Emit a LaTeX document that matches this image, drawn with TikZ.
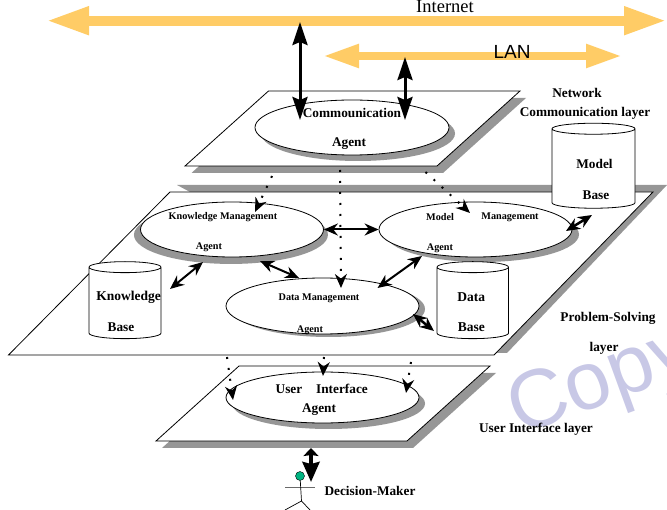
\documentclass[tikz,border=0pt]{standalone}
\usepackage{fontspec}
\setmainfont{Liberation Serif}
\newfontfamily\sansfont{Liberation Sans}
\usetikzlibrary{positioning,shapes.geometric,shadows,arrows.meta}
\definecolor{bandcol}{RGB}{255,204,102}
\definecolor{shadecol}{RGB}{150,150,150}
\definecolor{markcol}{RGB}{200,200,230}
\definecolor{headcol}{RGB}{0,180,130}

\begin{document}
\begin{tikzpicture}[x=1pt,y=-1pt,on grid,
	agent/.style={ellipse,draw,fill=white,inner sep=0pt,line width=0.8pt},
	plane/.style={draw,fill=white,line width=0.8pt},
	basecyl/.style={cylinder,shape border rotate=90,aspect=1.1,draw,fill=white,inner sep=5pt,line width=0.8pt},
	bigtxt/.style={font=\bfseries\fontsize{13.5}{15}\selectfont},
	midtxt/.style={font=\bfseries\fontsize{13.3}{15}\selectfont},
	smalltxt/.style={font=\bfseries\fontsize{10.2}{12}\selectfont},
	thicklink/.style={line width=3pt,{Stealth[length=23pt,width=15pt,inset=3pt]}-{Stealth[length=23pt,width=15pt,inset=3pt]}},
	link/.style={line width=2pt,{Stealth[length=14pt,width=12pt]}-{Stealth[length=14pt,width=12pt]}},
	dotlink/.style={line width=2pt,dash pattern=on 2pt off 9pt,-{Stealth[length=14pt,width=12pt]}}
	]
	\path [use as bounding box,clip] (0,0) rectangle (667,510);
	\node [rotate=20,anchor=base west,text=markcol,font=\sansfont\fontsize{82}{82}\selectfont] (mark) at (516,437) {Copy};

	% backbone bands
	\coordinate (inetl) at (46,20.7);
	\coordinate (inetr) at (667,20.7);
	\coordinate (lanl) at (323,56);
	\coordinate (lanr) at (622,56);
	\draw [bandcol,line width=10pt,{Triangle[length=43pt,width=26pt]}-{Triangle[length=43pt,width=26pt]}] (inetl) -- (inetr);
	\draw [bandcol,line width=8pt,{Triangle[length=36pt,width=22pt]}-{Triangle[length=36pt,width=22pt]}] (lanl) -- (lanr);
	\node [font=\fontsize{18.5}{20}\selectfont] (inettxt) at (445,7) {Internet};
	\node [font=\sansfont\fontsize{19}{21}\selectfont] (lantxt) at (512,52) {LAN};

	% layers
	\fill [shadecol] (191.5,173) -- (274,98) -- (526,98) -- (443,173) -- cycle;
	\draw [plane] (268.5,91) -- (520,91) -- (437,166) -- (185,166) -- cycle;
	\fill [shadecol] (177,185) -- (667,185) -- (507,353) -- (490,353) -- cycle;
	\draw [plane] (170,192) -- (653,192) -- (494,355) -- (8.5,355) -- cycle;
	\fill [shadecol] (162,448) -- (245,373) -- (496,373) -- (413,448) -- cycle;
	\draw [plane] (239,366) -- (490,366) -- (407,441) -- (156,441) -- cycle;

	% agents
	\node [agent,minimum width=194pt,minimum height=55pt,drop shadow={shadow xshift=6pt,shadow yshift=-6pt,fill=shadecol,opacity=1}] (comm) at (352,127.5) {};
	\node [agent,minimum width=183pt,minimum height=55pt,drop shadow={shadow xshift=-1pt,shadow yshift=-5pt,shadow scale=1.06,fill=shadecol,opacity=1}] (km) at (232,229.5) {};
	\node [agent,minimum width=193pt,minimum height=55pt,drop shadow={shadow xshift=7pt,shadow yshift=-5pt,fill=shadecol,opacity=1}] (mm) at (475.5,229.5) {};
	\node [agent,minimum width=193pt,minimum height=56pt,drop shadow={shadow xshift=6pt,shadow yshift=-3pt,fill=shadecol,opacity=1}] (dm) at (322.5,306) {};
	\node [agent,minimum width=193pt,minimum height=51pt,drop shadow={shadow xshift=6pt,shadow yshift=-6pt,fill=shadecol,opacity=1}] (ui) at (322.5,397.5) {};

	% bases
	\node [basecyl,minimum width=83pt,minimum height=85pt] (modelb) at (593.5,170) {};
	\node [basecyl,minimum width=72pt,minimum height=77pt] (kbase) at (125,304.5) {};
	\node [basecyl,minimum width=71.5pt,minimum height=77pt] (dbase) at (472.75,304.5) {};

	% texts
	\node [above=14.5pt of comm,midtxt] (commt) {Commounication};
	\node [below=16.5pt of comm,xshift=-3pt,midtxt] (commu) {Agent};
	\node [above=12.5pt of km,smalltxt,xshift=-9pt] (kmt) {Knowledge Management};
	\node [below=17.5pt of km,xshift=-23pt,smalltxt] (kmu) {Agent};
	\node [above=12.5pt of mm,xshift=-35.5pt,smalltxt] (mmt) {Model};
	\node [above=12.5pt of mm,xshift=34.5pt,smalltxt] (mmm) {Management};
	\node [below=18.5pt of mm,xshift=-35.5pt,smalltxt] (mmu) {Agent};
	\node [above=8pt of dm,xshift=-3.5pt,smalltxt] (dmt) {Data Management};
	\node [below=24pt of dm,xshift=-12.5pt,smalltxt] (dmu) {Agent};
	\node [above=8.5pt of ui,xshift=-33.5pt,midtxt] (uit) {User};
	\node [above=8.5pt of ui,xshift=19.5pt,midtxt] (uii) {Interface};
	\node [below=12.5pt of ui,xshift=-3.5pt,midtxt] (uiu) {Agent};
	\node [above=6pt of modelb,xshift=1pt,midtxt] (modt) {Model};
	\node [below=25pt of modelb,xshift=2.5pt,midtxt] (modu) {Base};
	\node [above=7.5pt of kbase,xshift=3.5pt,bigtxt] (kbt) {Knowledge};
	\node [below=22.5pt of kbase,xshift=-4pt,midtxt] (kbu) {Base};
	\node [above=7.5pt of dbase,xshift=-1.5pt,bigtxt] (dbt) {Data};
	\node [below=22.5pt of dbase,xshift=-1.5pt,bigtxt] (dbu) {Base};
	\node [midtxt] (nett) at (577,92.5) {Network};
	\node [below=20.5pt of nett,xshift=8pt,midtxt] (netu) {Commounication layer};
	\node [midtxt] (probt) at (608,318) {Problem-Solving};
	\node [below=30pt of probt,xshift=-4pt,midtxt] (probu) {layer};
	\node [midtxt] (uilay) at (536,429) {User Interface layer};

	% user
	\coordinate (armsl) at (285,487);
	\coordinate (armsr) at (315,487);
	\coordinate (hip) at (301.5,501);
	\node [circle,draw,fill=headcol,inner sep=0pt,minimum size=9pt] (dmhead) at (300,476) {};
	\draw [shadecol!70!black,line width=0.9pt] (armsl) -- (armsr);
	\draw [line width=0.7pt] (dmhead) -- (hip) -- (285,510);
	\draw [line width=0.7pt] (hip) -- (310,510);
	\node [midtxt] (dmaker) at (370,491) {Decision-Maker};

	% links
	\coordinate (inetp) at (300,22);
	\coordinate (lanp) at (405,57);
	\draw [thicklink] (inetp) -- ([shift={(-52,-7.5)}]comm.center);
	\draw [thicklink] (lanp) -- ([shift={(53,-7.5)}]comm.center);
	\draw [link,yshift=-1.5pt] (km.east) -- (mm.west);
	\draw [link] ([shift={(-29,32.5)}]km.center) -- ([shift={(45,-15.5)}]kbase.center);
	\draw [link] ([shift={(28,31.5)}]km.center) -- ([shift={(-23.5,-28)}]dm.center);
	\draw [link] ([shift={(-53.5,26.5)}]mm.center) -- ([shift={(55,-18)}]dm.center);
	\draw [link,line width=2.5pt] ([shift={(90.5,1.5)}]mm.center) -- ([shift={(-1.5,45)}]modelb.center);
	\draw [link,line width=2.5pt] ([shift={(90.5,8)}]dm.center) -- ([shift={(-38.75,26.5)}]dbase.center);

	% dotted links between layers
	\coordinate (cp1) at (272,176);
	\coordinate (cp2) at (340,170);
	\coordinate (cp3) at (425.5,172);
	\coordinate (sp1) at (227,357);
	\coordinate (sp2) at (324,357);
	\coordinate (sp3) at (411,362);
	\draw [dotlink] (cp1) -- ([shift={(23,-17.5)}]km.center);
	\draw [dotlink] (cp2) -- ([shift={(18.5,-18)}]dm.center);
	\draw [dotlink] (cp3) -- ([shift={(-5.5,-16.5)}]mm.center);
	\draw [dotlink] (sp1) -- ([shift={(-89.5,2.5)}]ui.center);
	\draw [dotlink] (sp2) -- ([shift={(0.5,-21.5)}]ui.center);
	\draw [dotlink] (sp3) -- ([shift={(83.5,-4.5)}]ui.center);

	\coordinate (uip) at (311,448);
	\draw [line width=4pt,{Stealth[length=8pt,width=15pt,inset=1pt]}-{Stealth[length=20pt,width=17pt,inset=2pt]}] (uip) -- ([shift={(11,6)}]dmhead.center);
\end{tikzpicture}
\end{document}
